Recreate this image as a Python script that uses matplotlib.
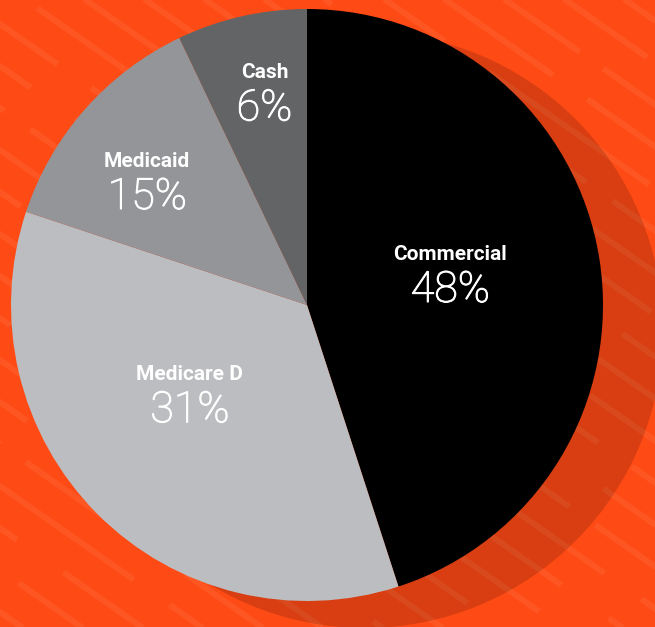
import numpy as np
import matplotlib.pyplot as plt
import matplotlib.patheffects as pe
from matplotlib.patches import Circle
from matplotlib.collections import LineCollection

W, H = 655, 627

# Daten
categories = ['Commercial', 'Medicare D', 'Medicaid', 'Cash']
pct_labels = [48, 31, 15, 6]
# Segmentgroessen wie im Bild gezeichnet (%)
slice_shares = [45.0, 35.1, 12.8, 7.1]
colors = ['#000000', '#BCBDC0', '#939598', '#636466']

# Beschriftungsposition: Radius-Anteil, Winkel im Uhrzeigersinn ab oben
label_r = [0.484, 0.56, 0.63, 0.64]
label_ang = [88.8, 225, 301, 347]

bg = '#FE4A14'
cx, cy, R = 307, H - 305, 296

fig = plt.figure(figsize=(W / 100, H / 100), dpi=100)
fig.patch.set_facecolor(bg)
ax = fig.add_axes([0, 0, 1, 1])
ax.set_facecolor(bg)

# Hintergrundstreifen
ang = np.deg2rad(35)
segs = []
for i, b in enumerate(range(-480, 640, 42)):
    seg_len = 120 + (i * 37) % 110
    gap = 25 + (i * 13) % 35
    x = -((i * 57) % 160)
    while x < W:
        x2 = x + seg_len * np.cos(ang)
        y1 = H - (b + np.tan(ang) * x)
        y2 = H - (b + np.tan(ang) * x2)
        segs.append([(x, y1), (x2, y2)])
        x = x2 + gap * np.cos(ang)
lc = LineCollection(segs, colors='white', alpha=0.065, linewidths=4.3,
                    capstyle='butt', zorder=1)
ax.add_collection(lc)

# Schatten
ax.add_patch(Circle((cx + 58, cy - 25), R + 2, facecolor='black',
                    alpha=0.15, edgecolor='none', zorder=2))

wedges, _ = ax.pie(slice_shares, colors=colors, startangle=90,
                   counterclock=False, center=(cx, cy), radius=R,
                   frame=True, wedgeprops=dict(linewidth=0, zorder=3))
for w in wedges:
    w.set_zorder(3)

thick = [pe.withStroke(linewidth=0.75, foreground='white')]
for name, pct, r, a in zip(categories, pct_labels, label_r, label_ang):
    t = np.deg2rad(a)
    x = cx + r * R * np.sin(t)
    y = cy + r * R * np.cos(t)
    ax.text(x, y, f'{pct}%', color='white', ha='center', va='baseline',
            fontsize=31, family='Roboto', fontweight='light', zorder=4,
            path_effects=thick)
    ax.text(x, y + 42, name, color='white', ha='center', va='baseline',
            fontsize=15, family='Roboto', fontweight='bold', zorder=4)

ax.set_xlim(0, W)
ax.set_ylim(0, H)
ax.set_aspect('equal')
ax.axis('off')

fig.savefig('out.png', dpi=100, facecolor=bg)
